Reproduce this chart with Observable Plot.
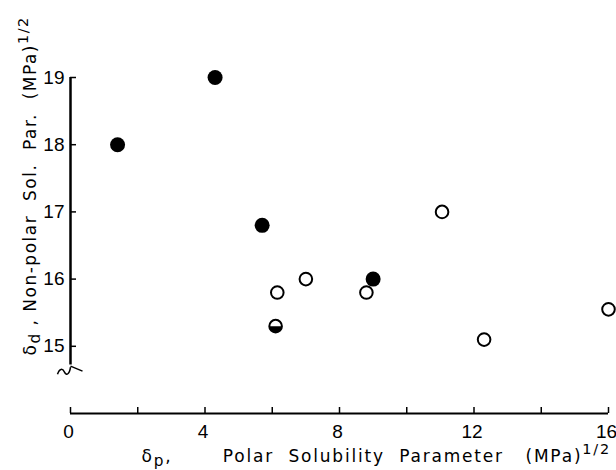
<!DOCTYPE html>
<html><head><meta charset="utf-8">
<script src="https://cdn.jsdelivr.net/npm/d3@7"></script>
<script src="https://cdn.jsdelivr.net/npm/@observablehq/plot@0.6"></script>
<style>body{margin:0;background:#fff;}</style>
</head><body><div id="chart"></div>
<script>
// ---- data ----
const filledX = [1.4, 4.3, 5.7, 9.0];
const filledY = [18.0, 19.0, 16.8, 16.0];
const openX = [6.15, 7.0, 8.8, 11.05, 12.3, 16.0];
const openY = [15.8, 16.0, 15.8, 17.0, 15.1, 15.55];
const halfX = [6.1];
const halfY = [15.3];
const xTicks = [0, 2, 4, 6, 8, 10, 12, 14, 16];
const xTickLabels = [0, 4, 8, 12, 16];
const yTicks = [15, 16, 17, 18, 19];
const yDomain = [14, 19];
const yAxisEnd = 14.72;   // the broken y axis stops here
const yBreakAt = 14.66;   // position of the break mark
const xTitle = "δ_{p},       Polar  Solubility  Parameter   (MPa)^{1/2}";
const yTitle = "δ_{d} , Non-polar  Sol.  Par.  (MPa)^{1/2}";

const pts = (X, Y) => X.map((x, i) => ({x, y: Y[i]}));

const halfDisc = {draw(ctx, size) {
  const r = Math.sqrt(size / Math.PI);
  ctx.moveTo(r, 0); ctx.arc(0, 0, r, 0, Math.PI); ctx.closePath();
}};
const squiggle = {draw(ctx) {
  ctx.moveTo(-13, 5);
  ctx.bezierCurveTo(-11, -1, -8, -1, -6, 3);
  ctx.bezierCurveTo(-4, 7, -1, 5, 0, -2);
  ctx.moveTo(0, -3); ctx.lineTo(12, 2);
}};

const chart = Plot.plot({
  width: 616, height: 470,
  marginLeft: 70, marginRight: 8, marginTop: 77, marginBottom: 57,
  x: {domain: [xTicks[0], xTicks[xTicks.length - 1]]},
  y: {domain: yDomain},
  style: {fontFamily: "Liberation Sans", fontSize: "19px", color: "black", background: "white"},
  marks: [
    Plot.ruleY([yDomain[0]], {x1: xTicks[0], x2: xTicks[xTicks.length - 1], stroke: "black", strokeWidth: 2}),
    Plot.ruleX([0], {y1: yTicks[yTicks.length - 1], y2: yAxisEnd, stroke: "black", strokeWidth: 2.5}),
    Plot.dot([yBreakAt], {x: 0, y: d => d, symbol: squiggle, stroke: "black", fill: "none", strokeWidth: 1.5}),
    Plot.axisX(xTicks, {tickSize: -6, tickFormat: () => "", strokeWidth: 1.5, label: null}),
    Plot.axisX(xTickLabels, {tickSize: 0, tickPadding: 11, tickFormat: d => String(d), dx: -2, label: null}),
    Plot.axisY(yTicks, {tickSize: -6, tickFormat: () => "", strokeWidth: 1.5, label: null}),
    Plot.axisY(yTicks, {tickSize: 0, tickPadding: 6, tickFormat: d => String(d), label: null}),
    Plot.dot(pts(openX, openY), {x: "x", y: "y", r: 6.3, fill: "white", stroke: "black", strokeWidth: 2}),
    Plot.dot(pts(halfX, halfY), {x: "x", y: "y", r: 6.3, fill: "white", stroke: "black", strokeWidth: 2}),
    Plot.dot(pts(halfX, halfY), {x: "x", y: "y", r: 6.3, symbol: halfDisc, fill: "black", stroke: "none"}),
    Plot.dot(pts(filledX, filledY), {x: "x", y: "y", r: 7.5, fill: "black", stroke: "none"}),
    Plot.text([xTitle], {frameAnchor: "bottom-left", dx: 71, dy: 48, textAnchor: "start", lineAnchor: "bottom", fontSize: 17, fontFamily: "DejaVu Sans"}),
    Plot.text([yTitle], {frameAnchor: "left", dx: -35, dy: 110, rotate: -90, textAnchor: "start", lineAnchor: "bottom", fontSize: 17, fontFamily: "DejaVu Sans"})
  ]
});
document.getElementById("chart").appendChild(chart);

// turn _{..} / ^{..} markup into sub/superscript tspans
function richText(node, fs) {
  const s = node.textContent;
  node.textContent = "";
  const re = /([_^])\{([^}]*)\}/g;
  let last = 0, shift = 0, m;
  const add = (t, dy, size) => {
    const ts = document.createElementNS("http://www.w3.org/2000/svg", "tspan");
    ts.textContent = t;
    if (dy) ts.setAttribute("dy", dy);
    if (size) ts.setAttribute("font-size", size);
    node.appendChild(ts);
  };
  while ((m = re.exec(s))) {
    if (m.index > last) { add(s.slice(last, m.index), -shift); shift = 0; }
    const d = m[1] === "_" ? 0.25 * fs : -0.45 * fs;
    add(m[2], d - shift, (m[1] === "_" ? 0.9 : 0.85) * fs);
    shift = d;
    last = re.lastIndex;
  }
  if (last < s.length) add(s.slice(last), -shift);
}
chart.querySelectorAll("text").forEach(t => {
  if (/[_^]\{/.test(t.textContent)) {
    t.setAttribute("letter-spacing", t.getAttribute("transform") && /rotate/.test(t.getAttribute("transform")) ? "1.5" : "1.8");
    richText(t, 17);
  }
});
</script>
</body></html>
